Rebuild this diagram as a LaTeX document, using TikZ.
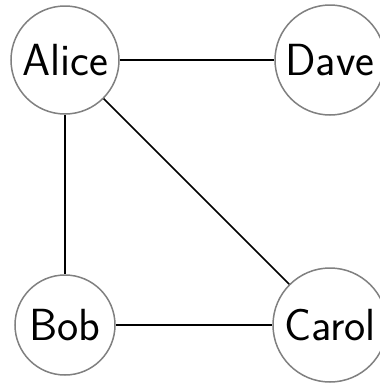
\documentclass[tikz,border=0pt]{standalone}
\tikzset{
  person/.style={circle, draw={rgb,255:red,128;green,128;blue,128}, line width=1.5pt, fill=white, inner sep=0pt, font=\sffamily\fontsize{45}{50}\selectfont},
  link/.style={line width=1.6pt, black}
}
\begin{document}
\begin{tikzpicture}[x=1pt,y=-1pt]
\useasboundingbox (0,0) rectangle (380,383);
\node[person, minimum size=108pt] (alice) at (65,60) {Alice};
\node[person, minimum size=110pt] (dave) at (330,60) {Dave};
\node[person, minimum size=100pt] (bob) at (65,325) {Bob};
\node[person, minimum size=114pt] (carol) at (330,325) {Carol};
\draw[link] (alice) -- (dave);
\draw[link] (alice) -- (bob);
\draw[link] (alice) -- (carol);
\draw[link] (bob) -- (carol);
\end{tikzpicture}
\end{document}
